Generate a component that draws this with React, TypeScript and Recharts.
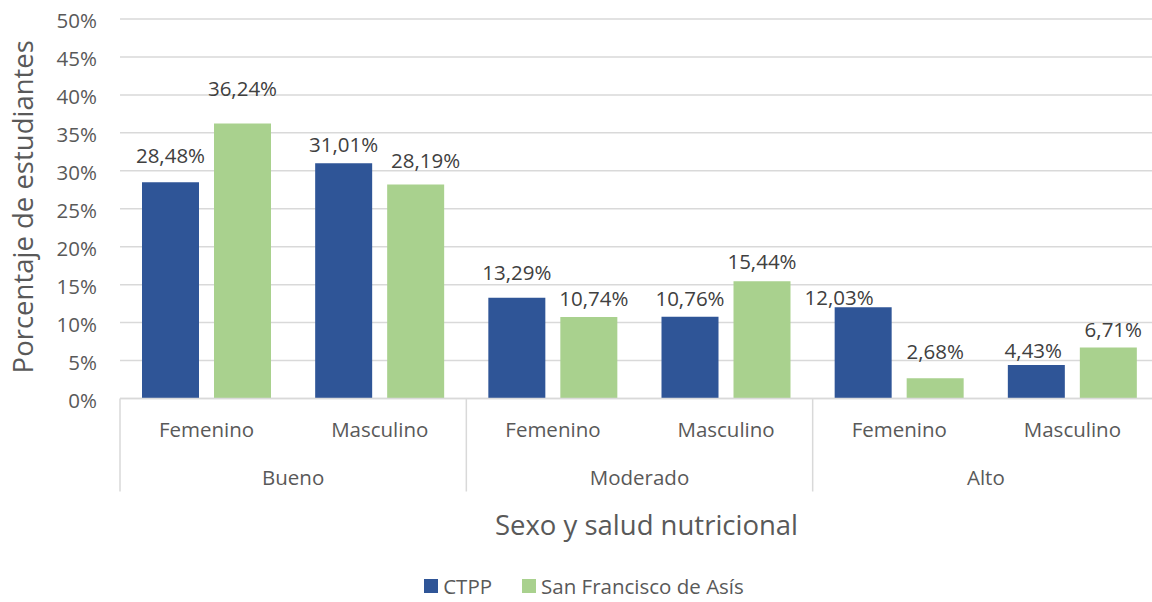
import { Bar, BarChart, CartesianGrid, Label, LabelList, Legend, XAxis, YAxis } from "recharts";

// sexo / salud nutricional, six bars per series
const SEXO = ["Femenino", "Masculino", "Femenino", "Masculino", "Femenino", "Masculino"];
const SALUD = ["Bueno", "Bueno", "Moderado", "Moderado", "Alto", "Alto"];
const CTPP = [28.48, 31.01, 13.29, 10.76, 12.03, 4.43];
const SAN_FRANCISCO = [36.24, 28.19, 10.74, 15.44, 2.68, 6.71];
const Y_TICKS = [0, 5, 10, 15, 20, 25, 30, 35, 40, 45, 50];

const SERIES = [
  { key: "ctpp", name: "CTPP", color: "#2F5597" },
  { key: "sanFrancisco", name: "San Francisco de Asís", color: "#A9D18E" },
];

// per-label tweaks: [dx, gap between bar top and text baseline]
const CTPP_NUDGE: [number, number][] = [[0, 19], [0, 11], [0, 18], [0, 11], [-24, 2], [-3, 7]];
const SF_NUDGE: [number, number][] = [[0, 27], [10, 17], [5, 11], [0, 12], [0, 19], [5, 11]];

const CHART_W = 1170;
const CHART_H = 620;
const MARGIN = { top: 19, right: 11, bottom: 20, left: 0 };
const Y_AXIS_W = 120;
const PLOT_W = CHART_W - MARGIN.left - MARGIN.right - Y_AXIS_W;

const GRID = "#d9d9d9";
const TICK = "#595959";
const LABEL = "#404040";
const FONT = 20.5;
const TITLE_FONT = 27.5;

const rows = SEXO.map((sexo, i) => ({
  sexo,
  salud: SALUD[i],
  ctpp: CTPP[i],
  sanFrancisco: SAN_FRANCISCO[i],
}));

const fmtPct = (v: number) => `${v.toFixed(2).replace(".", ",")}%`;

function valueLabel(nudge: [number, number][]) {
  return (props: any) => {
    const vb = props.viewBox ?? props;
    const x = Number(vb.x ?? props.x);
    const y = Number(vb.y ?? props.y);
    const w = Number(vb.width ?? props.width);
    const [dx, gap] = nudge[props.index] ?? [0, 10];
    return (
      <text x={x + w / 2 + dx} y={y - gap} textAnchor="middle" fontSize={FONT} fill={LABEL}>
        {fmtPct(Number(props.value))}
      </text>
    );
  };
}

// two-level category axis: sexo on the first row, salud group underneath
function SexoTick(props: any) {
  const { x, y, payload } = props;
  const n = props.visibleTicksCount || SEXO.length;
  const axisW = typeof props.width === "number" ? props.width : PLOT_W;
  const half = axisW / n / 2;
  const i = payload.index;
  return (
    <g>
      {i % 2 === 0 && (
        <line x1={x - half} x2={x - half} y1={y} y2={y + 93} stroke={GRID} strokeWidth={1.5} />
      )}
      {i === n - 1 && (
        <line x1={x + half} x2={x + half} y1={y} y2={y + 93} stroke={GRID} strokeWidth={1.5} />
      )}
      <text x={x} y={y + 38.5} textAnchor="middle" fontSize={FONT} fill={TICK}>
        {payload.value}
      </text>
      {i % 2 === 1 && (
        <text x={x - half} y={y + 86} textAnchor="middle" fontSize={FONT} fill={TICK}>
          {SALUD[i]}
        </text>
      )}
    </g>
  );
}

function XTitle(props: any) {
  const { x, y, width } = props.viewBox;
  return (
    <text x={x + width / 2 + 7} y={y + 136} textAnchor="middle" fontSize={TITLE_FONT} fill={TICK}>
      Sexo y salud nutricional
    </text>
  );
}

function YTitle(props: any) {
  const { x, y, height } = props.viewBox;
  const cx = x + 33;
  const cy = y + height / 2 - 2;
  return (
    <text
      x={cx}
      y={cy}
      transform={`rotate(-90, ${cx}, ${cy})`}
      textAnchor="middle"
      fontSize={TITLE_FONT}
      fill={TICK}
    >
      Porcentaje de estudiantes
    </text>
  );
}

function LegendRow() {
  return (
    <div
      style={{
        display: "flex",
        justifyContent: "center",
        alignItems: "center",
        height: 28,
        paddingLeft: 9,
        fontSize: FONT,
        lineHeight: "28px",
        color: TICK,
      }}
    >
      {SERIES.map((s, i) => (
        <div key={s.key} style={{ display: "flex", alignItems: "center", marginLeft: i ? 30 : 0 }}>
          <span style={{ width: 14, height: 14, background: s.color, marginRight: 5 }} />
          <span>{s.name}</span>
        </div>
      ))}
    </div>
  );
}

export default function App() {
  return (
    <div
      style={{
        position: "fixed",
        left: 0,
        top: 0,
        width: 1152,
        height: 602,
        overflow: "hidden",
        background: "#fff",
        fontFamily: "'Open Sans', sans-serif",
      }}
    >
      <BarChart width={CHART_W} height={CHART_H} data={rows} margin={MARGIN} barGap={15}>
        <CartesianGrid vertical={false} stroke={GRID} strokeWidth={1.5} />
        <XAxis
          dataKey="sexo"
          height={173.5}
          interval={0}
          tickLine={false}
          tickSize={0}
          tickMargin={0}
          axisLine={{ stroke: GRID, strokeWidth: 1.5 }}
          tick={<SexoTick />}
        >
          <Label content={<XTitle />} />
        </XAxis>
        <YAxis
          width={Y_AXIS_W}
          domain={[0, 50]}
          ticks={Y_TICKS}
          interval={0}
          tickFormatter={(v: number) => `${v}%`}
          tickLine={false}
          axisLine={false}
          tickSize={0}
          tickMargin={23}
          tick={{ fill: TICK, fontSize: FONT, dy: 2 }}
        >
          <Label content={<YTitle />} />
        </YAxis>
        <Legend verticalAlign="bottom" content={<LegendRow />} />
        <Bar dataKey="ctpp" name="CTPP" fill={SERIES[0].color} barSize={57} isAnimationActive={false}>
          <LabelList dataKey="ctpp" content={valueLabel(CTPP_NUDGE)} />
        </Bar>
        <Bar dataKey="sanFrancisco" name="San Francisco de Asís" fill={SERIES[1].color} barSize={57} isAnimationActive={false}>
          <LabelList dataKey="sanFrancisco" content={valueLabel(SF_NUDGE)} />
        </Bar>
      </BarChart>
    </div>
  );
}
